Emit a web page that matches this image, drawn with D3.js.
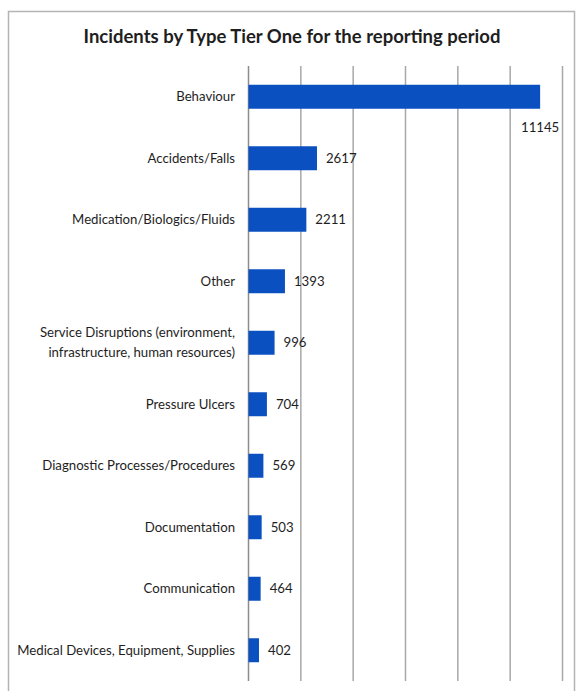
<!DOCTYPE html>
<html>
<head>
<meta charset="utf-8">
<script src="https://cdn.jsdelivr.net/npm/d3@7/dist/d3.min.js"></script>
<style>
  html, body { margin: 0; padding: 0; background: #fff; }
  svg { display: block; }
  text { font-family: Lato, "Open Sans", sans-serif; fill: #1e1e1e; }
</style>
</head>
<body>
<svg id="chart" width="577" height="691"></svg>
<script>
// Incident categories (tier one) and their counts
const categories = [
  "Behaviour",
  "Accidents/Falls",
  "Medication/Biologics/Fluids",
  "Other",
  "Service Disruptions (environment,|infrastructure, human resources)",
  "Pressure Ulcers",
  "Diagnostic Processes/Procedures",
  "Documentation",
  "Communication",
  "Medical Devices, Equipment, Supplies"
];
const counts = [11145, 2617, 2211, 1393, 996, 704, 569, 503, 464, 402];
const gridTicks = [0, 2000, 4000, 6000, 8000, 10000, 12000];
const titleText = "Incidents by Type Tier One for the reporting period";

const svg = d3.select("#chart");

// outer chart frame
svg.append("rect")
  .attr("x", 8.5).attr("y", 11.5)
  .attr("width", 566).attr("height", 700)
  .attr("fill", "none").attr("stroke", "#b4b4b4").attr("stroke-width", 1.5);

svg.append("text")
  .attr("x", 292).attr("y", 43)
  .attr("text-anchor", "middle")
  .attr("font-size", 18.5).attr("font-weight", 700)
  .text(titleText);

const x = d3.scaleLinear().domain([0, 12000]).range([248.5, 562.5]);
const y = d3.scaleBand().domain(categories).range([66, 681]).paddingInner(0.61).paddingOuter(0.305);

// vertical gridlines
svg.append("g").selectAll("line")
  .data(gridTicks)
  .join("line")
  .attr("x1", d => x(d)).attr("x2", d => x(d))
  .attr("y1", 66).attr("y2", 681)
  .attr("stroke", d => d === 0 ? "#8c8c8c" : "#a8a8a8")
  .attr("stroke-width", 1.5);

// bars
svg.append("g").selectAll("rect")
  .data(categories)
  .join("rect")
  .attr("x", x(0))
  .attr("y", d => y(d))
  .attr("width", (d, i) => x(counts[i]) - x(0))
  .attr("height", y.bandwidth())
  .attr("fill", "#0b50c0");

// category labels
const catG = svg.append("g");
categories.forEach(c => {
  const lines = c.split("|");
  const cy = y(c) + y.bandwidth() / 2;
  const t = catG.append("text")
    .attr("x", 235).attr("text-anchor", "end")
    .attr("font-size", 13.2);
  lines.forEach((ln, k) => {
    t.append("tspan")
      .attr("x", 235)
      .attr("y", cy + 4.5 + (k - (lines.length - 1) / 2) * 20)
      .text(ln);
  });
});

// value labels; a bar that reaches the right edge gets its label beneath it
svg.append("g").selectAll("text")
  .data(categories)
  .join("text")
  .attr("font-size", 13.2)
  .each(function(d, i) {
    const v = counts[i];
    const cy = y(d) + y.bandwidth() / 2;
    const sel = d3.select(this).text(v);
    if (x(v) > 500) {
      sel.attr("x", x(v)).attr("y", cy + 35).attr("text-anchor", "middle");
    } else {
      sel.attr("x", x(v) + 9).attr("y", cy + 4.5).attr("text-anchor", "start");
    }
  });
</script>
</body>
</html>
